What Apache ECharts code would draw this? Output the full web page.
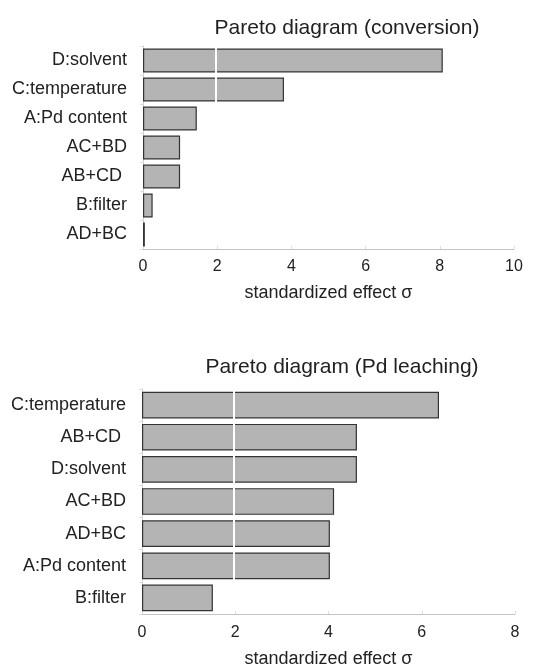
<!DOCTYPE html>
<html>
<head>
<meta charset="utf-8">
<script src="https://cdn.jsdelivr.net/npm/echarts@6/dist/echarts.min.js"></script>
<style>html,body{margin:0;padding:0;background:#fff}#c{width:533px;height:666px}</style>
</head>
<body>
<div id="c"></div>
<script>
var titleTop = "Pareto diagram (conversion)";
var titleBottom = "Pareto diagram (Pd leaching)";
var axisName = "standardized effect \u03c3";

var catsTop = ["D:solvent", "C:temperature", "A:Pd content", "AC+BD", "AB+CD ", "B:filter", "AD+BC"];
var valsTop = [8.08, 3.8, 1.45, 1.0, 1.0, 0.26, 0.05];
var ticksTop = [0, 2, 4, 6, 8, 10];

var catsBottom = ["C:temperature", "AB+CD ", "D:solvent", "AC+BD", "AD+BC", "A:Pd content", "B:filter"];
var valsBottom = [6.37, 4.61, 4.61, 4.12, 4.03, 4.03, 1.52];
var ticksBottom = [0, 2, 4, 6, 8];

var threshold = 1.96;

var FONT = "Liberation Sans";
var chart = echarts.init(document.getElementById('c'));

function xAx(idx, ticks, gap, margin) {
  return {
    type: 'value', gridIndex: idx,
    min: ticks[0], max: ticks[ticks.length - 1], interval: ticks[1] - ticks[0],
    name: axisName, nameLocation: 'middle', nameGap: gap,
    nameTextStyle: { fontFamily: FONT, fontSize: 18, color: '#222' },
    axisLine: { show: true, lineStyle: { color: '#c4c4c4', width: 1 } },
    axisTick: { show: true, inside: true, length: 3, lineStyle: { color: '#dedede' } },
    splitLine: { show: false },
    axisLabel: { fontFamily: FONT, fontSize: 16, color: '#222', margin: margin }
  };
}
function yAx(idx, cats) {
  return {
    type: 'category', gridIndex: idx, data: cats, inverse: true,
    axisLine: { show: true, lineStyle: { color: '#d0d0d0', width: 1 } },
    axisTick: { show: true, length: 3, lineStyle: { color: '#e0e0e0' } },
    axisLabel: { fontFamily: FONT, fontSize: 18, color: '#222', margin: 16 }
  };
}
function barSeries(idx, vals) {
  return {
    type: 'bar', xAxisIndex: idx, yAxisIndex: idx, data: vals,
    barCategoryGap: '17%',
    itemStyle: { color: '#b4b4b4', borderColor: '#333', borderWidth: 1.2 },
    markLine: {
      silent: true, symbol: 'none', label: { show: false },
      lineStyle: { color: '#ffffff', width: 2, type: 'solid' },
      data: [{ xAxis: threshold }]
    },
    z: 2
  };
}

chart.setOption({
  animation: false,
  backgroundColor: '#fff',
  title: [
    { text: titleTop, left: 342, top: 13, textAlign: 'center',
      textStyle: { fontFamily: FONT, fontSize: 21, fontWeight: 'normal', color: '#222' } },
    { text: titleBottom, left: 337, top: 352, textAlign: 'center',
      textStyle: { fontFamily: FONT, fontSize: 21, fontWeight: 'normal', color: '#222' } }
  ],
  grid: [
    { left: 143, right: 19, top: 46, height: 203, containLabel: false, outerBoundsMode: 'none' },
    { left: 142, right: 18, top: 389, height: 225, containLabel: false, outerBoundsMode: 'none' }
  ],
  xAxis: [xAx(0, ticksTop, 35, 10), xAx(1, ticksBottom, 36, 11)],
  yAxis: [yAx(0, catsTop), yAx(1, catsBottom)],
  series: [barSeries(0, valsTop), barSeries(1, valsBottom)]
});
</script>
</body>
</html>
